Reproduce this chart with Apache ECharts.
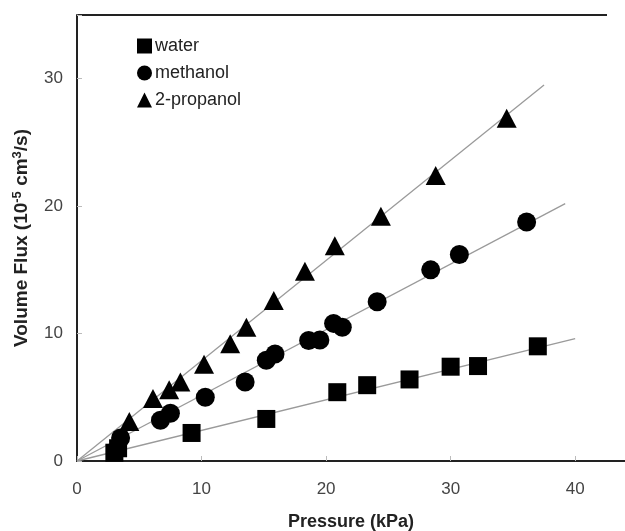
<!DOCTYPE html>
<html>
<head>
<meta charset="utf-8">
<script src="https://cdn.jsdelivr.net/npm/echarts@6/dist/echarts.min.js"></script>
<style>html,body{margin:0;padding:0;background:#fff;}#c{width:625px;height:531px;}</style>
</head>
<body>
<div id="c"></div>
<script>
// Data (Pressure kPa, Volume Flux 1e-5 cm3/s)
const water = [[3.0,0.65],[3.3,1.0],[9.2,2.2],[15.2,3.3],[20.9,5.4],[23.3,5.95],[26.7,6.4],[30.0,7.4],[32.2,7.45],[37.0,9.0]];
const methanol = [[3.5,1.8],[6.7,3.2],[7.5,3.75],[10.3,5.0],[13.5,6.2],[15.2,7.9],[15.9,8.4],[18.6,9.45],[19.5,9.5],[20.6,10.8],[21.3,10.5],[24.1,12.5],[28.4,15.0],[30.7,16.2],[36.1,18.75]];
const propanol = [[4.2,3.1],[6.1,4.9],[7.4,5.6],[8.3,6.2],[10.2,7.6],[12.3,9.2],[13.6,10.5],[15.8,12.6],[18.3,14.9],[20.7,16.9],[24.4,19.2],[28.8,22.4],[34.5,26.9]];
const waterFit = [[0,0],[40,9.6]];
const methanolFit = [[0,0],[39.2,20.2]];
const propanolFit = [[0,0],[37.5,29.5]];
const xTicks = [0,10,20,30,40];
const yTicks = [0,10,20,30];

const chart = echarts.init(document.getElementById('c'));
const font = 'Liberation Sans, Arial, sans-serif';
const fitStyle = {color:'#9a9a9a', width:1.3};
const mk = '#000';
chart.setOption({
  animation:false,
  backgroundColor:'#fff',
  grid:{left:77, right:0, top:15, bottom:70, outerBoundsMode:'none', containLabel:false},
  legend:{
    orient:'vertical', left:132, top:32, itemGap:9, itemWidth:15, itemHeight:15,
    textStyle:{fontFamily:font, fontSize:18, lineHeight:18, color:'#222', padding:[0,0,0,-2]},
    data:[{name:'water', icon:'rect'},{name:'methanol', icon:'circle'},{name:'2-propanol', icon:'triangle'}]
  },
  xAxis:{
    type:'value', min:0, max:44, interval:10,
    axisLine:{lineStyle:{color:'#222', width:2}},
    axisTick:{inside:true, length:5, lineStyle:{color:'#bbb'}},
    splitLine:{show:false},
    axisLabel:{color:'#444', fontSize:17, fontFamily:font, margin:20,
      formatter:v=> xTicks.indexOf(v)>=0 ? String(v) : ''},
    name:'Pressure (kPa)', nameLocation:'middle', nameGap:52,
    nameTextStyle:{fontFamily:font, fontSize:18, fontWeight:'bold', color:'#222'}
  },
  yAxis:{
    type:'value', min:0, max:35, interval:10,
    axisLine:{lineStyle:{color:'#222', width:2}},
    axisTick:{inside:true, length:5, lineStyle:{color:'#bbb'}},
    splitLine:{show:false},
    axisLabel:{color:'#444', fontSize:17, fontFamily:font, margin:14,
      formatter:v=> yTicks.indexOf(v)>=0 ? String(v) : ''},
    name:'{b|Volume Flux (10}{s|-5}{b| cm}{s|3}{b|/s)}', nameLocation:'middle', nameGap:45,
    nameTextStyle:{
      rich:{
        b:{fontFamily:font, fontSize:19, fontWeight:'bold', color:'#222', lineHeight:21},
        s:{fontFamily:font, fontSize:13, fontWeight:'bold', color:'#222', verticalAlign:'top', lineHeight:21}
      }
    }
  },
  graphic:[{type:'line', shape:{x1:78, y1:15, x2:607, y2:15}, style:{stroke:'#222', lineWidth:2}}],
  series:[
    {type:'line', data:waterFit, showSymbol:false, lineStyle:fitStyle, silent:true, z:1},
    {type:'line', data:methanolFit, showSymbol:false, lineStyle:fitStyle, silent:true, z:1},
    {type:'line', data:propanolFit, showSymbol:false, lineStyle:fitStyle, silent:true, z:1},
    {name:'water', type:'scatter', data:water, symbol:'rect', symbolSize:18, itemStyle:{color:mk, opacity:1}, z:3},
    {name:'methanol', type:'scatter', data:methanol, symbol:'circle', symbolSize:19, itemStyle:{color:mk, opacity:1}, z:3},
    {name:'2-propanol', type:'scatter', data:propanol, symbol:'triangle', symbolSize:[20,19], itemStyle:{color:mk, opacity:1}, z:3}
  ]
});
</script>
</body>
</html>
